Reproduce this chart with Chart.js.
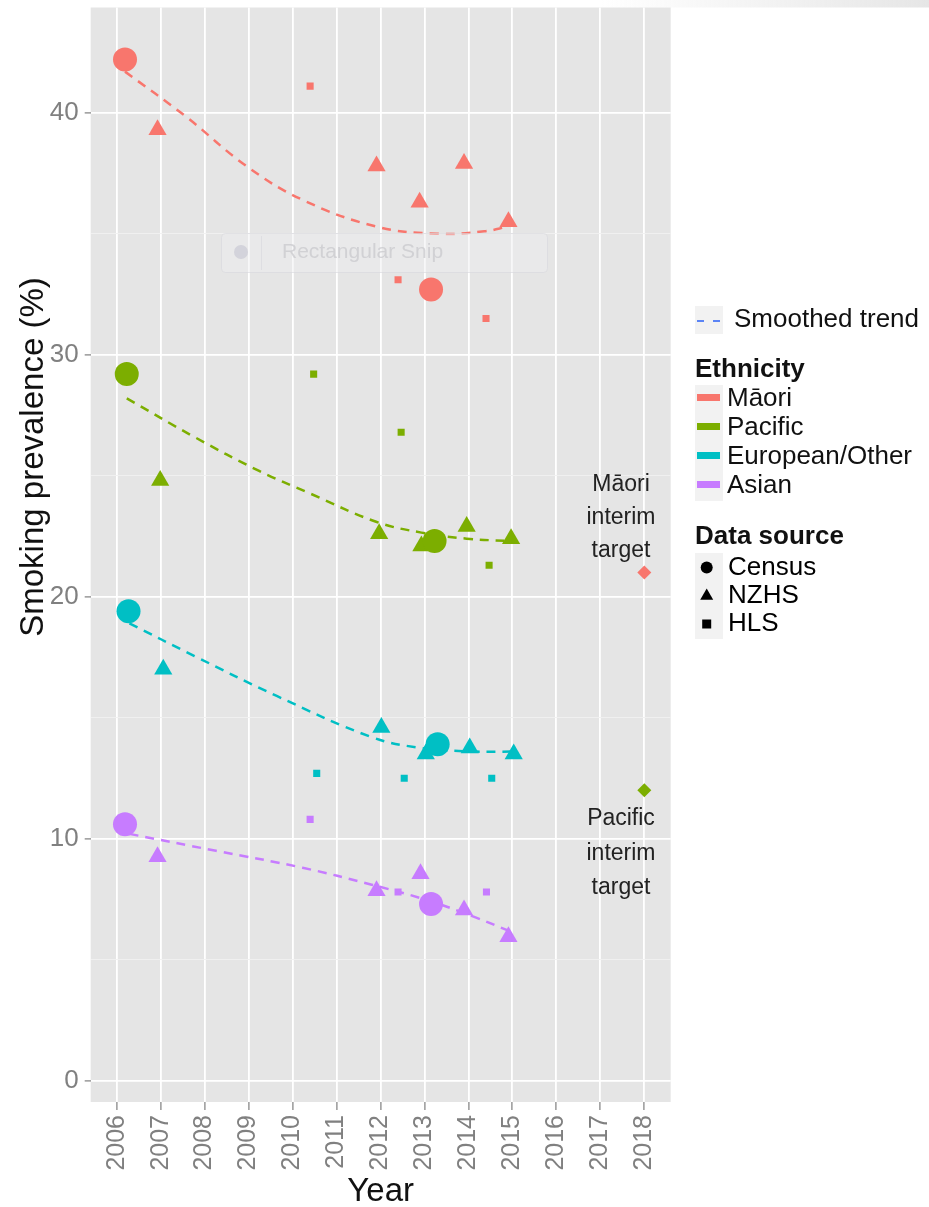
<!DOCTYPE html>
<html>
<head>
<meta charset="utf-8">
<script src="https://cdn.jsdelivr.net/npm/chart.js@4.4.0/dist/chart.umd.min.js"></script>
<style>
  html, body { margin: 0; padding: 0; background: #fff; }
  #wrap { width: 929px; height: 1207px; position: relative; }
</style>
</head>
<body>
<div id="wrap"><canvas id="chart"></canvas></div>
<script>
// axis ticks
const years = [2006, 2007, 2008, 2009, 2010, 2011, 2012, 2013, 2014, 2015, 2016, 2017, 2018];
const yTicks = [0, 5, 10, 15, 20, 25, 30, 35, 40];
const yLabels = [0, 10, 20, 30, 40];

// groups, in order: Māori, Pacific, European/Other, Asian
const ethnicities = ["Māori", "Pacific", "European/Other", "Asian"];
const ethColors = ["#F8766D", "#7CAE00", "#00BFC4", "#C77CFF"];
const sources = ["Census", "NZHS", "HLS"];

// Census
const censusX = [[2006.19, 2013.15], [2006.23, 2013.23], [2006.27, 2013.30], [2006.19, 2013.15]];
const censusY = [[42.2, 32.7], [29.2, 22.3], [19.4, 13.9], [10.6, 7.3]];

// NZ Health Survey
const nzhsX = [
  [2006.93, 2011.91, 2012.89, 2013.90, 2014.91],
  [2006.99, 2011.97, 2012.93, 2013.96, 2014.97],
  [2007.06, 2012.02, 2013.03, 2014.03, 2015.03],
  [2006.93, 2011.91, 2012.91, 2013.90, 2014.91]
];
const nzhsY = [
  [39.3, 37.8, 36.3, 37.9, 35.5],
  [24.8, 22.6, 22.1, 22.9, 22.4],
  [17.0, 14.6, 13.5, 13.75, 13.5],
  [9.25, 7.85, 8.55, 7.05, 5.95]
];

// Health and Lifestyles Survey
const hlsX = [
  [2010.40, 2012.40, 2014.40],
  [2010.48, 2012.47, 2014.47],
  [2010.55, 2012.54, 2014.53],
  [2010.40, 2012.40, 2014.41]
];
const hlsY = [
  [41.1, 33.1, 31.5],
  [29.2, 26.8, 21.3],
  [12.7, 12.5, 12.5],
  [10.8, 7.8, 7.8]
];

// smoothed trend
const trendX = [
  [2006.19, 2007.57, 2008.95, 2010.23, 2011.9, 2013.28, 2014.36, 2014.91],
  [2006.23, 2007.77, 2009.24, 2010.42, 2011.9, 2012.93, 2013.96, 2014.97],
  [2006.29, 2007.77, 2009.64, 2011.8, 2012.93, 2014.16, 2015.03],
  [2006.29, 2008.26, 2010.23, 2011.8, 2013.08, 2014.16, 2014.91]
];
const trendY = [
  [41.7, 39.85, 37.8, 36.4, 35.3, 35.0, 35.1, 35.3],
  [28.2, 26.6, 25.2, 24.25, 23.1, 22.65, 22.4, 22.3],
  [18.9, 17.55, 15.9, 14.2, 13.75, 13.6, 13.6],
  [10.2, 9.5, 8.8, 8.1, 7.45, 6.75, 6.2]
];

// 2018 interim targets (Māori, Pacific)
const targetX = [2018, 2018];
const targetY = [21.0, 12.0];
const targetText = [["Māori", "interim", "target"], ["Pacific", "interim", "target"]];

const FONT = '"Liberation Sans", Arial, sans-serif';

function pts(xs, ys) {
  return xs.map((x, i) => ({ x: x, y: ys[i] }));
}

const datasets = [];
ethnicities.forEach((name, i) => {
  datasets.push({
    label: name + " Census", data: pts(censusX[i], censusY[i]), order: 1,
    pointStyle: "circle", pointRadius: 12, backgroundColor: ethColors[i], pointBorderWidth: 0
  });
  datasets.push({
    label: name + " NZHS", data: pts(nzhsX[i], nzhsY[i]), order: 2,
    pointStyle: "triangle", pointRadius: 10.5, backgroundColor: ethColors[i], pointBorderWidth: 0
  });
  datasets.push({
    label: name + " HLS", data: pts(hlsX[i], hlsY[i]), order: 3,
    pointStyle: "rect", pointRadius: 5, backgroundColor: ethColors[i], pointBorderWidth: 0
  });
  datasets.push({
    label: name + " trend", data: pts(trendX[i], trendY[i]), order: 5,
    showLine: true, pointRadius: 0, borderColor: ethColors[i], borderWidth: 2.5,
    borderDash: [9, 7], tension: 0.4, fill: false
  });
});
targetX.forEach((x, i) => {
  datasets.push({
    label: targetText[i].join(" "), data: [{ x: x, y: targetY[i] }], order: 3,
    pointStyle: "rectRot", pointRadius: 7, backgroundColor: ethColors[i], pointBorderWidth: 0
  });
});

const ggplotPlugin = {
  id: "ggplot",
  beforeDraw(chart) {
    const ctx = chart.ctx;
    const a = chart.chartArea;
    ctx.save();
    ctx.fillStyle = "#E5E5E5";
    ctx.fillRect(a.left, a.top, a.right - a.left, a.bottom - a.top);
    // screenshot strip at the top right
    const g = ctx.createLinearGradient(600, 0, 929, 0);
    g.addColorStop(0, "rgba(232,232,232,0)");
    g.addColorStop(1, "#E6E6E6");
    ctx.fillStyle = g;
    ctx.fillRect(600, 0, 329, 7.5);
    ctx.restore();
  },
  afterDraw(chart) {
    const ctx = chart.ctx;
    const a = chart.chartArea;
    ctx.save();

    // axis titles
    ctx.fillStyle = "#111";
    ctx.font = "33px " + FONT;
    ctx.textAlign = "center";
    ctx.textBaseline = "alphabetic";
    ctx.fillText("Year", (a.left + a.right) / 2, 1201);
    ctx.save();
    ctx.translate(43, 457);
    ctx.rotate(-Math.PI / 2);
    ctx.fillText("Smoking prevalence (%)", 0, 0);
    ctx.restore();

    // target labels
    ctx.fillStyle = "#222";
    ctx.font = "23px " + FONT;
    const labelBase = [[491, 524, 557], [825, 859.5, 894]];
    targetText.forEach((lines, i) => {
      lines.forEach((t, j) => ctx.fillText(t, 621, labelBase[i][j]));
    });

    // snipping tool overlay
    ctx.fillStyle = "rgba(238,238,240,0.45)";
    ctx.strokeStyle = "rgba(215,215,220,0.6)";
    ctx.lineWidth = 1;
    ctx.beginPath();
    ctx.roundRect(221.5, 233.5, 326, 39, 4);
    ctx.fill();
    ctx.stroke();
    ctx.beginPath();
    ctx.moveTo(261.5, 236);
    ctx.lineTo(261.5, 270);
    ctx.stroke();
    ctx.fillStyle = "rgba(205,205,215,0.8)";
    ctx.beginPath();
    ctx.arc(241, 252, 7, 0, Math.PI * 2);
    ctx.fill();
    ctx.fillStyle = "rgba(200,200,204,0.75)";
    ctx.font = "21px " + FONT;
    ctx.textAlign = "left";
    ctx.textBaseline = "middle";
    ctx.fillText("Rectangular Snip", 282, 252);

    // legend
    const kx = 695, kw = 28;
    ctx.fillStyle = "#F2F2F2";
    ctx.fillRect(kx, 306, kw, 28);
    ctx.strokeStyle = "#5B84F5";
    ctx.lineWidth = 2;
    ctx.beginPath();
    ctx.moveTo(697, 321); ctx.lineTo(704, 321);
    ctx.moveTo(713, 321); ctx.lineTo(720, 321);
    ctx.stroke();
    ctx.fillStyle = "#111";
    ctx.font = "26px " + FONT;
    ctx.fillText("Smoothed trend", 734, 320);

    ctx.font = "bold 26px " + FONT;
    ctx.fillText("Ethnicity", 695, 370);
    const ethRows = [399, 428, 457, 486];
    ctx.fillStyle = "#F2F2F2";
    ctx.fillRect(kx, 385, kw, 116);
    ethnicities.forEach((name, i) => {
      ctx.fillStyle = ethColors[i];
      ctx.fillRect(697, ethRows[i] - 5, 23, 7);
      ctx.fillStyle = "#111";
      ctx.font = "26px " + FONT;
      ctx.fillText(name, 727, ethRows[i]);
    });

    ctx.font = "bold 26px " + FONT;
    ctx.fillText("Data source", 695, 537);
    const srcRows = [567.5, 596, 624];
    ctx.fillStyle = "#F2F2F2";
    ctx.fillRect(kx, 553, kw, 86);
    const cx = 706.7;
    ctx.fillStyle = "#000";
    ctx.beginPath();
    ctx.arc(cx, srcRows[0], 6, 0, Math.PI * 2);
    ctx.fill();
    ctx.beginPath();
    ctx.moveTo(cx, srcRows[1] - 7.5);
    ctx.lineTo(cx + 6.5, srcRows[1] + 3.8);
    ctx.lineTo(cx - 6.5, srcRows[1] + 3.8);
    ctx.closePath();
    ctx.fill();
    ctx.fillRect(cx - 4.5, srcRows[2] - 4.5, 9, 9);
    ctx.font = "26px " + FONT;
    sources.forEach((s, i) => ctx.fillText(s, 728, srcRows[i]));

    ctx.restore();
  }
};

new Chart(document.getElementById("chart"), {
  type: "scatter",
  data: { datasets: datasets },
  options: {
    responsive: true,
    maintainAspectRatio: false,
    animation: false,
    layout: { autoPadding: false, padding: { top: 7.5, right: 258.3, left: 0, bottom: 0 } },
    plugins: {
      legend: { display: false },
      tooltip: { enabled: false }
    },
    scales: {
      x: {
        type: "linear",
        min: 2005.41,
        max: 2018.6,
        afterBuildTicks: s => { s.ticks = years.map(v => ({ value: v })); },
        afterFit: s => { s.height = 105; s.paddingLeft = 0; s.paddingRight = 0; },
        border: { display: false },
        grid: { color: "#FFFFFF", lineWidth: 1.8, tickLength: 8, tickColor: "#7F7F7F", tickWidth: 1.2 },
        ticks: {
          callback: v => String(v),
          autoSkip: false,
          minRotation: 90,
          maxRotation: 90,
          padding: 5,
          color: "#808080",
          font: { family: FONT, size: 25 }
        }
      },
      y: {
        min: -0.88,
        max: 44.35,
        afterBuildTicks: s => { s.ticks = yTicks.map(v => ({ value: v })); },
        afterFit: s => { s.width = 90.7; s.paddingTop = 0; s.paddingBottom = 0; },
        border: { display: false },
        grid: {
          color: c => (c.tick && yLabels.includes(c.tick.value)) ? "#FFFFFF" : "#F0F0F0",
          lineWidth: c => (c.tick && yLabels.includes(c.tick.value)) ? 1.8 : 0.9,
          tickLength: 6,
          tickWidth: 1.2,
          tickColor: c => (c.tick && yLabels.includes(c.tick.value)) ? "#7F7F7F" : "rgba(0,0,0,0)"
        },
        ticks: {
          callback: v => yLabels.includes(v) ? String(v) : "",
          padding: 6,
          color: "#808080",
          font: { family: FONT, size: 26 }
        }
      }
    }
  },
  plugins: [ggplotPlugin]
});
</script>
</body>
</html>
